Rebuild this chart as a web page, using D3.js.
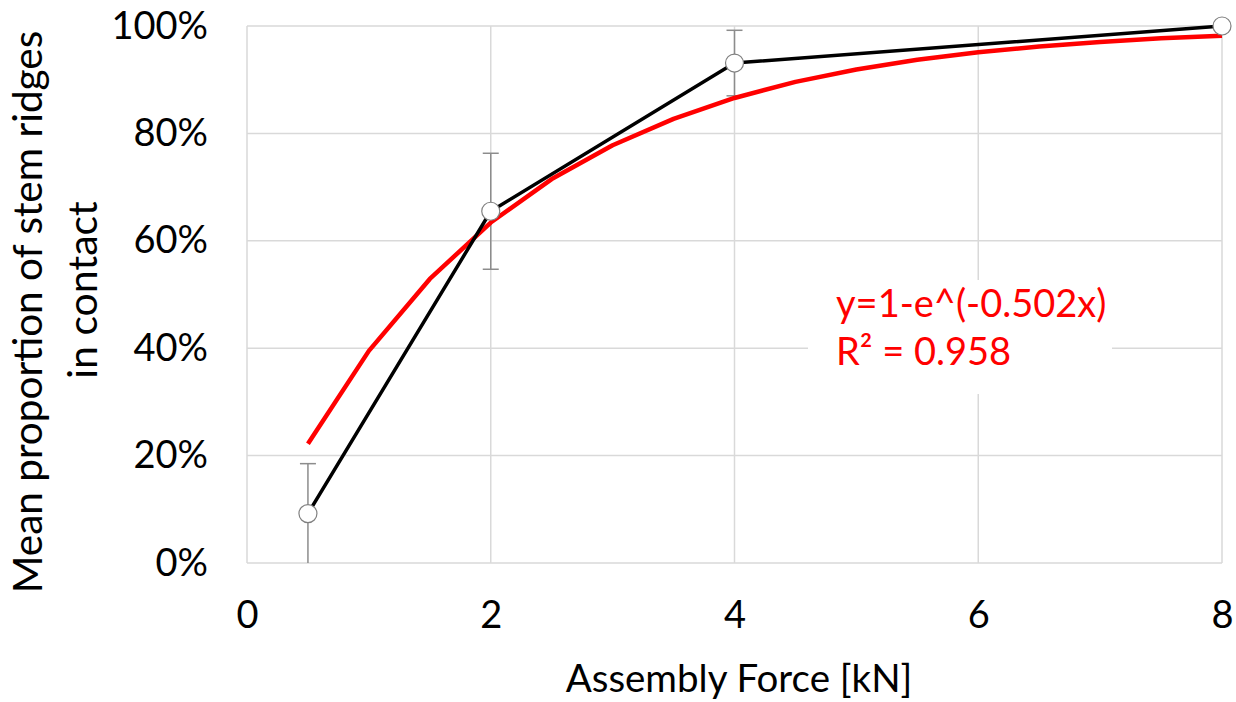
<!DOCTYPE html>
<html><head><meta charset="utf-8">
<script src="https://cdn.jsdelivr.net/npm/d3@7"></script>
<style>body{margin:0;background:#fff}svg{display:block}</style>
</head><body>
<svg id="c" width="1236" height="702"></svg>
<script>
const forceKN = [0.5, 2, 4, 8];
const meanProportion = [0.092, 0.655, 0.931, 1.0];
const errorAmount = [0.093, 0.108, 0.061, 0];
const fitX = [0.5,1,1.5,2,2.5,3,3.5,4,4.5,5,5.5,6,6.5,7,7.5,8];
const fitY = [0.222,0.395,0.529,0.634,0.715,0.778,0.827,0.866,0.896,0.919,0.937,0.951,0.962,0.970,0.977,0.982];
const xTicks = [0,2,4,6,8];
const yTicks = [0,0.2,0.4,0.6,0.8,1.0];
const fitLabel = ["y=1-e^(-0.502x)", "R² = 0.958"];
const yTitle = ["Mean proportion of stem ridges", "in contact"];

const font = "Lato, 'Open Sans', sans-serif";
const svg = d3.select("#c");
const L=247, R=1222, T=26, B=563;
const x = d3.scaleLinear().domain([0,8]).range([L,R]);
const y = d3.scaleLinear().domain([0,1]).range([B,T]);

// grid
svg.append("g").selectAll("line").data(yTicks).join("line")
  .attr("x1",L).attr("x2",R).attr("y1",d=>y(d)).attr("y2",d=>y(d))
  .attr("stroke","#d9d9d9").attr("stroke-width",1.5);
svg.append("g").selectAll("line").data(xTicks).join("line")
  .attr("x1",d=>x(d)).attr("x2",d=>x(d)).attr("y1",T).attr("y2",B)
  .attr("stroke","#d9d9d9").attr("stroke-width",1.5);

// axes labels
const ya = svg.append("g").attr("transform",`translate(${L},0)`)
  .call(d3.axisLeft(y).tickValues(yTicks).tickFormat(d3.format(".0%")).tickSize(0).tickPadding(39));
ya.select(".domain").remove();
ya.selectAll("text").attr("font-family",font).attr("font-size",38).attr("fill","#000");
const xa = svg.append("g").attr("transform",`translate(0,${B})`)
  .call(d3.axisBottom(x).tickValues(xTicks).tickFormat(d3.format("d")).tickSize(0).tickPadding(38));
xa.select(".domain").remove();
xa.selectAll("text").attr("font-family",font).attr("font-size",38).attr("fill","#000");

svg.append("text").attr("x",739).attr("y",692).attr("text-anchor","middle")
  .attr("font-family",font).attr("font-size",38.5).text("Assembly Force [kN]");
svg.append("text").attr("transform","translate(42,312) rotate(-90)")
  .attr("text-anchor","middle").attr("font-family",font).attr("font-size",40.5).text(yTitle[0]);
svg.append("text").attr("transform","translate(97,290) rotate(-90)")
  .attr("text-anchor","middle").attr("font-family",font).attr("font-size",41).text(yTitle[1]);

// error bars
const pts = forceKN.map((f,i)=>({f, m:meanProportion[i], e:errorAmount[i]}));
const eb = svg.append("g").attr("stroke","#8c8c8c").attr("stroke-width",1.5);
pts.filter(p=>p.e>0).forEach(p=>{
  const hi = Math.min(1,p.m+p.e), lo = Math.max(0,p.m-p.e);
  eb.append("line").attr("x1",x(p.f)).attr("x2",x(p.f)).attr("y1",y(hi)).attr("y2",y(lo));
  eb.append("line").attr("x1",x(p.f)-8).attr("x2",x(p.f)+8).attr("y1",y(hi)).attr("y2",y(hi));
  if (p.m-p.e>=0) eb.append("line").attr("x1",x(p.f)-8).attr("x2",x(p.f)+8).attr("y1",y(lo)).attr("y2",y(lo));
});

// fit curve
svg.append("path").datum(fitX.map((v,i)=>[v,fitY[i]]))
  .attr("d",d3.line().x(d=>x(d[0])).y(d=>y(d[1])))
  .attr("fill","none").attr("stroke","#ff0000").attr("stroke-width",4.5).attr("stroke-linejoin","round");

// data line
svg.append("path").datum(pts)
  .attr("d",d3.line().x(d=>x(d.f)).y(d=>y(d.m)))
  .attr("fill","none").attr("stroke","#000").attr("stroke-width",3.5).attr("stroke-linejoin","round");

svg.append("g").selectAll("circle").data(pts).join("circle")
  .attr("cx",d=>x(d.f)).attr("cy",d=>y(d.m)).attr("r",9)
  .attr("fill","#fff").attr("stroke","#808080").attr("stroke-width",1.2);

// annotation
svg.append("rect").attr("x",808).attr("y",280).attr("width",304).attr("height",114).attr("fill","#fff");
svg.append("g").selectAll("text").data(fitLabel).join("text")
  .attr("x",836).attr("y",(d,i)=>317+i*48)
  .attr("font-family",font).attr("font-size",38).attr("fill","#ff0000").text(d=>d);
</script>
</body></html>
